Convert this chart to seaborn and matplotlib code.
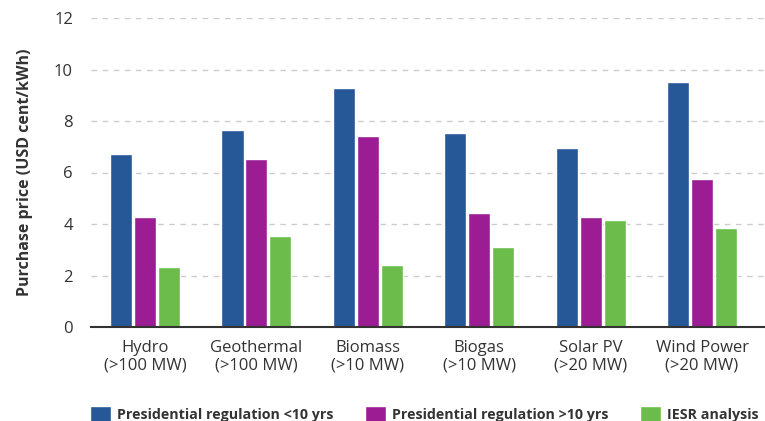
import matplotlib
matplotlib.use("Agg")
import matplotlib.pyplot as plt
import seaborn as sns
import pandas as pd

categories = ["Hydro\n(>100 MW)", "Geothermal\n(>100 MW)", "Biomass\n(>10 MW)",
              "Biogas\n(>10 MW)", "Solar PV\n(>20 MW)", "Wind Power\n(>20 MW)"]
series_names = ["Presidential regulation <10 yrs",
                "Presidential regulation >10 yrs",
                "IESR analysis"]
reg_short = [6.72, 7.65, 9.28, 7.53, 6.95, 9.51]
reg_long = [4.27, 6.52, 7.42, 4.43, 4.27, 5.75]
iesr = [2.33, 3.53, 2.41, 3.11, 4.16, 3.84]
colors = ["#265797", "#9C1C94", "#6BBC4B"]

rows = []
for name, vals in zip(series_names, [reg_short, reg_long, iesr]):
    for cat, v in zip(categories, vals):
        rows.append({"category": cat, "series": name, "price": v})
df = pd.DataFrame(rows)

sns.set_theme(style="white")
plt.rcParams["font.family"] = ["Open Sans", "DejaVu Sans"]

fig = plt.figure(figsize=(7.65, 4.21), dpi=100)
ax = fig.add_axes([91 / 765, 1 - 327 / 421, (765 - 91) / 765, (327 - 18) / 421])

sns.barplot(data=df, x="category", y="price", hue="series", order=categories,
            hue_order=series_names, palette=colors, width=0.645, gap=0.08,
            saturation=1, ax=ax, legend=True)

ax.set_ylim(0, 12)
ax.set_yticks(range(0, 13, 2))
ax.set_xlim(-0.485, 5.565)
ax.yaxis.grid(True, linestyle=(0, (4, 4)), color="#cccccc", linewidth=1)
ax.set_axisbelow(True)
for s in ["top", "right", "left"]:
    ax.spines[s].set_visible(False)
ax.spines["bottom"].set_color("#333333")
ax.spines["bottom"].set_linewidth(1.5)
ax.tick_params(axis="both", length=0, labelsize=12, colors="#333333")
ax.tick_params(axis="y", pad=13)
ax.tick_params(axis="x", pad=9)
for lbl in ax.get_xticklabels():
    lbl.set_linespacing(1.2)
ax.set_xlabel("")
ax.set_ylabel("Purchase price (USD cent/kWh)", fontsize=11.5, fontweight="bold",
              color="#333333", labelpad=15)

handles, labels = ax.get_legend_handles_labels()
ax.get_legend().remove()
fig.legend(handles, labels, loc="center left", bbox_to_anchor=(90 / 765, 1 - 414 / 421),
           ncol=3, frameon=False, prop={"weight": "bold", "size": 10.3},
           handlelength=1.45, handleheight=1.45, columnspacing=2.2, handletextpad=0.45,
           borderpad=0, borderaxespad=0, labelcolor="#333333")

fig.savefig("out.png", dpi=100)
